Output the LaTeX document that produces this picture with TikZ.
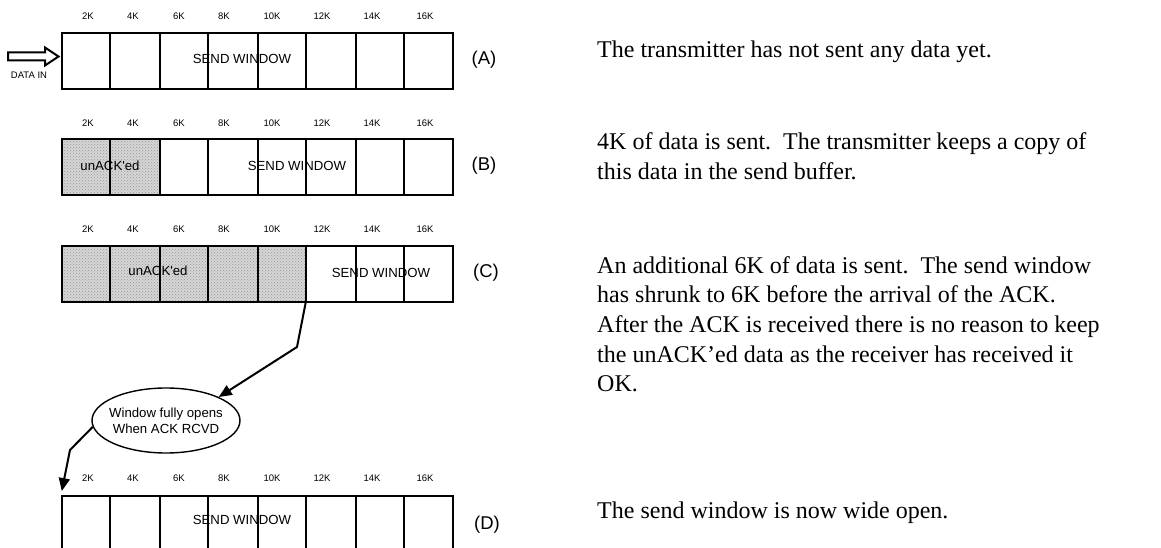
\documentclass[tikz,border=0pt]{standalone}
\usepackage{fontspec}
\setmainfont{Liberation Serif}
\newfontfamily\arialfont{Liberation Sans}
\usetikzlibrary{arrows.meta,shapes.geometric,patterns}
\definecolor{unackfill}{RGB}{214,214,214}
\definecolor{unackdots}{RGB}{150,150,150}
\tikzset{
  winbox/.style={draw, line width=1.8pt, minimum width=391pt, minimum height=56pt,
                 inner sep=0pt, anchor=north west},
  cellline/.style={line width=1.2pt},
  klabel/.style={font=\arialfont\fontsize{9.5}{11}\selectfont, inner sep=0pt},
  wintext/.style={font=\arialfont\fontsize{13.2}{15.5}\selectfont, inner sep=0pt},
  rowtag/.style={font=\arialfont\fontsize{18.5}{22}\selectfont, inner sep=0pt},
  note/.style={font=\fontsize{24}{29}\selectfont, anchor=base west, inner sep=0pt},
  pointer/.style={line width=2pt, -{Triangle[length=13pt,width=11pt]}},
  unack/.style={fill=unackfill},
  stipple/.style={pattern=crosshatch dots, pattern color=unackdots},
  bubble/.style={ellipse, draw, line width=1.4pt, minimum width=148pt,
                 minimum height=65pt, inner sep=0pt}
}
\begin{document}
\begin{tikzpicture}[x=1pt,y=-1pt]
\useasboundingbox (0,0) rectangle (1161,548);

% data already sent but not yet acknowledged
\fill[unack] (61,138) rectangle (160,194);
\fill[stipple] (61,138) rectangle (160,194);
\fill[unack] (61,245) rectangle (306,301);
\fill[stipple] (61,245) rectangle (306,301);

% 2K cells of each buffer
\foreach \top in {32,138,245,495}
  \foreach \x in {110,160,208,258,306,356,404}
    \draw[cellline] (\x,\top) -- ++(0,56);

% buffer outlines
\node[winbox] (boxA) at (61,32) {};
\node[winbox] (boxB) at (61,138) {};
\node[winbox] (boxC) at (61,245) {};
\node[winbox, minimum height=70pt] (boxD) at (61,495) {};

% byte offsets above every buffer
\foreach \row/\y in {A/16,B/123,C/229,D/478}
  \foreach \x/\k in {88/2K,133/4K,179/6K,224/8K,272/10K,322/12K,372/14K,425/16K}
    \node[klabel] (k\row\k) at (\x,\y) {\k};

% buffer contents
\node[wintext] (sendA) at (242,59) {SEND WINDOW};
\node[wintext] (sendB) at (297,166) {SEND WINDOW};
\node[wintext] (unackB) at (110,166) {unACK\textquotesingle ed};
\node[wintext] (sendC) at (381,273) {SEND WINDOW};
\node[wintext] (unackC) at (158,271) {unACK\textquotesingle ed};
\node[wintext] (sendD) at (242,520) {SEND WINDOW};

% row tags
\node[rowtag] (tagA) at (484,60) {(A)};
\node[rowtag] (tagB) at (484,166) {(B)};
\node[rowtag] (tagC) at (486,273) {(C)};
\node[rowtag] (tagD) at (487,525) {(D)};

% incoming data
\draw[line width=2pt, line join=miter] (8,52.5) -- (45,52.5) -- (45,47.5) -- (58.5,56.5)
  -- (45,65.5) -- (45,60.5) -- (8,60.5) -- cycle;
\node[klabel] (datain) at (29,75) {DATA IN};

% window reopens once the ACK arrives
\node[bubble] (ack) at (166,420.5) {};
\node[wintext, align=center] (acktext) at (166,421) {Window fully opens\\When ACK RCVD};
\coordinate (bendC0) at (306,301);
\coordinate (bendC1) at (297,347);
\draw[pointer] (bendC0) -- (bendC1) -- (ack.24);
\coordinate (bendD) at (70,450);
\draw[pointer, shorten >=4pt] (ack.185) -- (bendD) -- (boxD.north west);

% explanations
\node[note] (noteA) at (597,57.5) {The transmitter has not sent any data yet.};
\node[note] (noteB1) at (597,149.5) {4K of data is sent.\ \ The transmitter keeps a copy of};
\node[note] (noteB2) at (597,179.2) {this data in the send buffer.};
\node[note] (noteC1) at (597,273) {An additional 6K of data is sent.\ \ The send window};
\node[note] (noteC2) at (597,302.7) {has shrunk to 6K before the arrival of the ACK.};
\node[note] (noteC3) at (597,332.4) {After the ACK is received there is no reason to keep};
\node[note] (noteC4) at (597,362.1) {the unACK’ed data as the receiver has received it};
\node[note] (noteC5) at (597,391.8) {OK.};
\node[note] (noteD) at (597,518) {The send window is now wide open.};
\end{tikzpicture}
\end{document}
